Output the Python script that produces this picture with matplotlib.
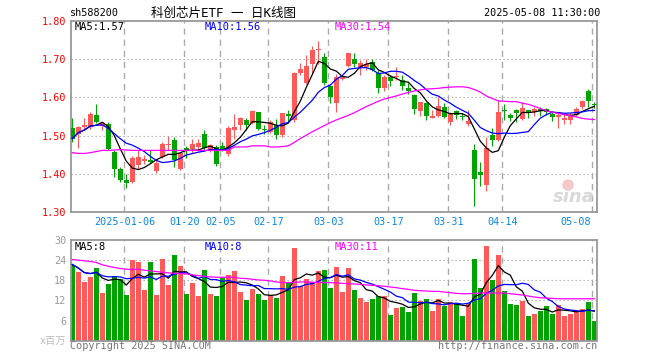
import numpy as np
import pandas as pd
import matplotlib
matplotlib.use("Agg")
import matplotlib.pyplot as plt
import matplotlib.transforms as mtransforms
from matplotlib.patches import Ellipse

# daily candles, first = 2024-12-23, last = 2025-05-08
opens = [1.521, 1.503, 1.523, 1.523, 1.554, 1.526, 1.530, 1.456, 1.411, 1.382,
         1.378, 1.423, 1.432, 1.435, 1.407, 1.444, 1.474, 1.488, 1.413, 1.466,
         1.464, 1.469, 1.503, 1.461, 1.470, 1.472, 1.451, 1.514, 1.527, 1.540,
         1.532, 1.561, 1.518, 1.510, 1.527, 1.501, 1.556, 1.540, 1.663, 1.637,
         1.688, 1.725, 1.707, 1.630, 1.586, 1.648, 1.682, 1.700, 1.681, 1.680,
         1.694, 1.663, 1.625, 1.653, 1.653, 1.646, 1.624, 1.606, 1.565, 1.586,
         1.547, 1.551, 1.574, 1.536, 1.565, 1.552, 1.530, 1.461, 1.404, 1.369,
         1.501, 1.488, 1.567, 1.553, 1.567, 1.544, 1.567, 1.562, 1.569, 1.569,
         1.556, 1.549, 1.542, 1.542, 1.554, 1.574, 1.617, 1.582]
highs = [1.546, 1.525, 1.545, 1.562, 1.582, 1.534, 1.535, 1.461, 1.418, 1.400,
         1.446, 1.461, 1.450, 1.463, 1.435, 1.482, 1.498, 1.496, 1.457, 1.472,
         1.490, 1.492, 1.514, 1.479, 1.475, 1.483, 1.525, 1.556, 1.549, 1.545,
         1.567, 1.563, 1.527, 1.540, 1.543, 1.560, 1.567, 1.668, 1.691, 1.711,
         1.735, 1.748, 1.716, 1.632, 1.662, 1.660, 1.718, 1.716, 1.698, 1.700,
         1.700, 1.672, 1.659, 1.659, 1.681, 1.659, 1.639, 1.609, 1.589, 1.589,
         1.568, 1.602, 1.586, 1.562, 1.568, 1.560, 1.567, 1.479, 1.431, 1.496,
         1.519, 1.593, 1.582, 1.558, 1.571, 1.589, 1.568, 1.575, 1.575, 1.572,
         1.565, 1.558, 1.556, 1.560, 1.574, 1.593, 1.623, 1.589]
lows = [1.483, 1.468, 1.514, 1.518, 1.532, 1.514, 1.461, 1.391, 1.379, 1.361,
        1.375, 1.413, 1.426, 1.428, 1.402, 1.442, 1.463, 1.418, 1.409, 1.441,
        1.455, 1.460, 1.460, 1.457, 1.421, 1.460, 1.446, 1.491, 1.514, 1.514,
        1.530, 1.514, 1.503, 1.507, 1.492, 1.496, 1.536, 1.536, 1.659, 1.635,
        1.663, 1.689, 1.632, 1.586, 1.562, 1.645, 1.680, 1.681, 1.659, 1.672,
        1.670, 1.611, 1.618, 1.631, 1.646, 1.619, 1.609, 1.556, 1.552, 1.540,
        1.546, 1.549, 1.545, 1.527, 1.544, 1.540, 1.525, 1.315, 1.367, 1.354,
        1.473, 1.486, 1.542, 1.539, 1.536, 1.542, 1.546, 1.551, 1.551, 1.555,
        1.539, 1.520, 1.531, 1.531, 1.552, 1.571, 1.574, 1.573]
closes = [1.492, 1.523, 1.528, 1.556, 1.536, 1.532, 1.464, 1.411, 1.382, 1.375,
          1.441, 1.444, 1.438, 1.431, 1.428, 1.477, 1.479, 1.437, 1.453, 1.460,
          1.479, 1.481, 1.466, 1.475, 1.425, 1.461, 1.521, 1.523, 1.547, 1.527,
          1.565, 1.518, 1.515, 1.536, 1.501, 1.558, 1.552, 1.665, 1.675, 1.683,
          1.725, 1.727, 1.637, 1.602, 1.655, 1.655, 1.716, 1.688, 1.691, 1.688,
          1.672, 1.624, 1.654, 1.644, 1.656, 1.631, 1.617, 1.569, 1.588, 1.551,
          1.551, 1.577, 1.549, 1.558, 1.554, 1.549, 1.539, 1.387, 1.396, 1.468,
          1.489, 1.561, 1.564, 1.547, 1.558, 1.573, 1.560, 1.571, 1.564, 1.562,
          1.549, 1.554, 1.547, 1.553, 1.571, 1.590, 1.591, 1.579]
# volume in millions
volumes = [22.7, 20.6, 17.6, 19.1, 21.8, 14.3, 17.0, 19.4, 18.5, 13.7,
           24.0, 23.3, 15.2, 23.3, 13.7, 24.2, 16.7, 25.4, 22.4, 14.0,
           17.3, 13.4, 21.2, 14.0, 13.4, 18.8, 19.7, 20.9, 14.6, 12.2,
           15.5, 14.0, 12.2, 13.7, 12.8, 19.4, 17.6, 27.5, 16.4, 18.5,
           17.6, 20.9, 21.2, 15.8, 22.1, 14.6, 21.8, 15.2, 12.8, 11.6,
           12.5, 13.4, 13.4, 7.7, 9.8, 10.1, 8.6, 14.3, 11.9, 12.5,
           8.9, 12.5, 10.4, 11.6, 11.0, 7.4, 11.0, 24.2, 15.8, 28.1,
           18.2, 25.4, 14.9, 11.0, 10.7, 11.9, 7.4, 8.0, 8.9, 10.4,
           8.0, 10.7, 7.4, 8.0, 8.9, 9.5, 11.6, 5.9]
# 30-day averages (they need data before the window)
ma30 = [1.455, 1.453, 1.453, 1.455, 1.458, 1.461, 1.461, 1.462, 1.463, 1.462,
        1.461, 1.461, 1.461, 1.461, 1.461, 1.461, 1.461, 1.461, 1.461, 1.461,
        1.461, 1.461, 1.461, 1.461, 1.461, 1.461, 1.461, 1.470, 1.470, 1.470,
        1.473, 1.473, 1.473, 1.470, 1.470, 1.471, 1.473, 1.482, 1.492, 1.501,
        1.510, 1.518, 1.526, 1.534, 1.541, 1.547, 1.553, 1.560, 1.568, 1.576,
        1.583, 1.590, 1.596, 1.600, 1.604, 1.609, 1.613, 1.617, 1.620, 1.622,
        1.623, 1.624, 1.626, 1.627, 1.628, 1.628, 1.626, 1.621, 1.614, 1.604,
        1.597, 1.591, 1.590, 1.589, 1.589, 1.585, 1.582, 1.577, 1.571, 1.565,
        1.561, 1.558, 1.555, 1.552, 1.549, 1.545, 1.543, 1.542]
vol_ma30 = [24.2, 24.0, 23.8, 23.6, 23.3, 22.6, 22.2, 21.8, 21.5, 21.3,
            21.2, 21.3, 21.0, 20.8, 20.6, 20.4, 20.2, 20.1, 20.0, 19.9,
            19.6, 19.4, 19.2, 19.0, 18.9, 18.9, 18.9, 18.9, 18.6, 18.5,
            18.3, 18.1, 18.0, 17.8, 17.5, 17.3, 17.3, 17.4, 17.5, 17.5,
            17.4, 17.4, 17.3, 17.3, 17.2, 17.1, 17.0, 16.9, 16.8, 16.6,
            16.5, 16.4, 16.2, 16.0, 15.8, 15.5, 15.3, 15.0, 14.9, 14.8,
            14.7, 14.7, 14.5, 14.3, 14.1, 14.0, 14.0, 14.1, 14.2, 14.2,
            14.2, 14.2, 14.2, 14.0, 13.8, 13.6, 13.3, 13.0, 12.8, 12.7,
            12.6, 12.5, 12.5, 12.5, 12.5, 12.5, 12.5, 12.5]

date_labels = ["2025-01-06", "01-20", "02-05", "02-17", "03-03",
               "03-17", "03-31", "04-14", "05-08"]
date_idx = [9, 19, 25, 33, 43, 53, 63, 72, 87]
price_ticks = [1.30, 1.40, 1.50, 1.60, 1.70, 1.80]
vol_ticks = [6, 12, 18, 24, 30]

UP = "#ff5959"
DOWN = "#00a300"
GRID = "#aaaaaa"
FRAME = "#999999"
MONO = "DejaVu Sans Mono"
CJK = ["DejaVu Sans Mono", "Noto Sans CJK SC"]

W, H = 660, 360


def rect(l, t, r, b):
    return [l / W, 1 - b / H, (r - l) / W, (b - t) / H]


def fx(x):
    return x / W


def fy(y):
    return 1 - y / H


o = np.array(opens)
h = np.array(highs)
l = np.array(lows)
c = np.array(closes)
v = np.array(volumes)
x = np.arange(len(c))
up = c >= o
cols = np.where(up, UP, DOWN)

ma5 = pd.Series(c).rolling(5, min_periods=1).mean()
ma10 = pd.Series(c).rolling(10, min_periods=1).mean()
vma5 = pd.Series(v).rolling(5, min_periods=1).mean()
vma10 = pd.Series(v).rolling(10, min_periods=1).mean()

fig = plt.figure(figsize=(6.6, 3.6), dpi=100)
ax = fig.add_axes(rect(70.5, 21.3, 597, 211.7))
axv = fig.add_axes(rect(70.5, 240, 597, 340.7))

xlim = (-0.3, 87.45)

## FRAMES + GRID ##
for a in (ax, axv):
    a.set_xlim(*xlim)
    for s in a.spines.values():
        s.set_color(FRAME)
        s.set_linewidth(1.3)
    a.tick_params(length=0)
    a.set_xticks([])
    for i in date_idx:
        a.axvline(i - 0.33, color=GRID, lw=1.0, dashes=(4.5, 3.5), zorder=0)

## PRICE PANEL ##
ax.set_ylim(1.30, 1.80)
ax.set_yticks(price_ticks)
ax.set_yticklabels([f"{t:.2f}" for t in price_ticks], color="red",
                   fontsize=7.3, family=MONO)
ax.tick_params(axis="y", pad=3)
for t in price_ticks[1:-1]:
    ax.axhline(t, color=GRID, lw=0.8, dashes=(1.2, 2.4), zorder=0)

body_lo = np.minimum(o, c)
body_h = np.maximum(np.abs(c - o), 0.003)
ax.vlines(x, l, h, colors=cols, lw=0.8, zorder=2)
ax.bar(x, body_h, bottom=body_lo, width=0.83, color=cols, lw=0, zorder=3)

ax.plot(x, ma5, color="black", lw=0.9, zorder=4)
ax.plot(x, ma10, color="blue", lw=0.9, zorder=4)
ax.plot(x, ma30, color="magenta", lw=0.9, zorder=4)

# watermark
ax.add_patch(Ellipse((0.945, 0.14), 0.022, 0.06, transform=ax.transAxes,
                     color="#f6c8c8", lw=0, zorder=1))
ax.text(0.995, 0.03, "sina", transform=ax.transAxes, ha="right", va="bottom",
        fontsize=13, fontweight="bold", fontstyle="italic", color="#d9d9d9",
        family="DejaVu Sans", zorder=1)

## VOLUME PANEL ##
axv.set_ylim(0, 30)
axv.set_yticks(vol_ticks)
axv.set_yticklabels([str(t) for t in vol_ticks], color="#999999",
                    fontsize=7.3, family=MONO)
axv.tick_params(axis="y", pad=3)
for t in vol_ticks[:-1]:
    axv.axhline(t, color=GRID, lw=0.8, dashes=(1.2, 2.4), zorder=0)

axv.bar(x, v, width=0.83, color=cols, lw=0, zorder=2)
axv.plot(x, vma5, color="black", lw=0.9, zorder=3)
axv.plot(x, vma10, color="blue", lw=0.9, zorder=3)
axv.plot(x, vol_ma30, color="magenta", lw=0.9, zorder=3)

# date labels under the price panel, last one kept inside the frame
trans = mtransforms.blended_transform_factory(ax.transData, fig.transFigure)
for k, (i, lab) in enumerate(zip(date_idx, date_labels)):
    last = k == len(date_idx) - 1
    ax.text(i - 0.33 if not last else i - 0.5, fy(222), lab, transform=trans,
            ha="right" if last else "center", va="center",
            fontsize=7.3, family=MONO, color="#0a88dd", clip_on=False)

## TEXTS ##
fig.text(fx(70), fy(13), "sh588200", ha="left", va="center",
         fontsize=7.3, family=MONO)
fig.text(fx(151), fy(13), "科创芯片ETF 一 日K线图", ha="left", va="center",
         fontsize=9, family=CJK)
fig.text(fx(600), fy(13), "2025-05-08 11:30:00", ha="right", va="center",
         fontsize=7.3, family=MONO)

fig.text(fx(75), fy(26.5), "MA5:1.57", fontsize=7.5, family=MONO,
         color="black", va="center")
fig.text(fx(205), fy(26.5), "MA10:1.56", fontsize=7.5, family=MONO,
         color="blue", va="center")
fig.text(fx(335), fy(26.5), "MA30:1.54", fontsize=7.5, family=MONO,
         color="magenta", va="center")

fig.text(fx(75), fy(246.7), "MA5:8", fontsize=7.5, family=MONO,
         color="black", va="center")
fig.text(fx(205), fy(246.7), "MA10:8", fontsize=7.5, family=MONO,
         color="blue", va="center")
fig.text(fx(335), fy(246.7), "MA30:11", fontsize=7.5, family=MONO,
         color="magenta", va="center")

fig.text(fx(66), fy(341), "x百万", ha="right", va="center", fontsize=7.3,
         family=CJK, color="#bbbbbb")
fig.text(fx(70), fy(346), "Copyright 2025 SINA.COM", ha="left", va="center",
         fontsize=7.3, family=MONO, color="#777777")
fig.text(fx(597), fy(346), "http://finance.sina.com.cn", ha="right",
         va="center", fontsize=7.3, family=MONO, color="#777777")

fig.savefig("out.png", dpi=100)
